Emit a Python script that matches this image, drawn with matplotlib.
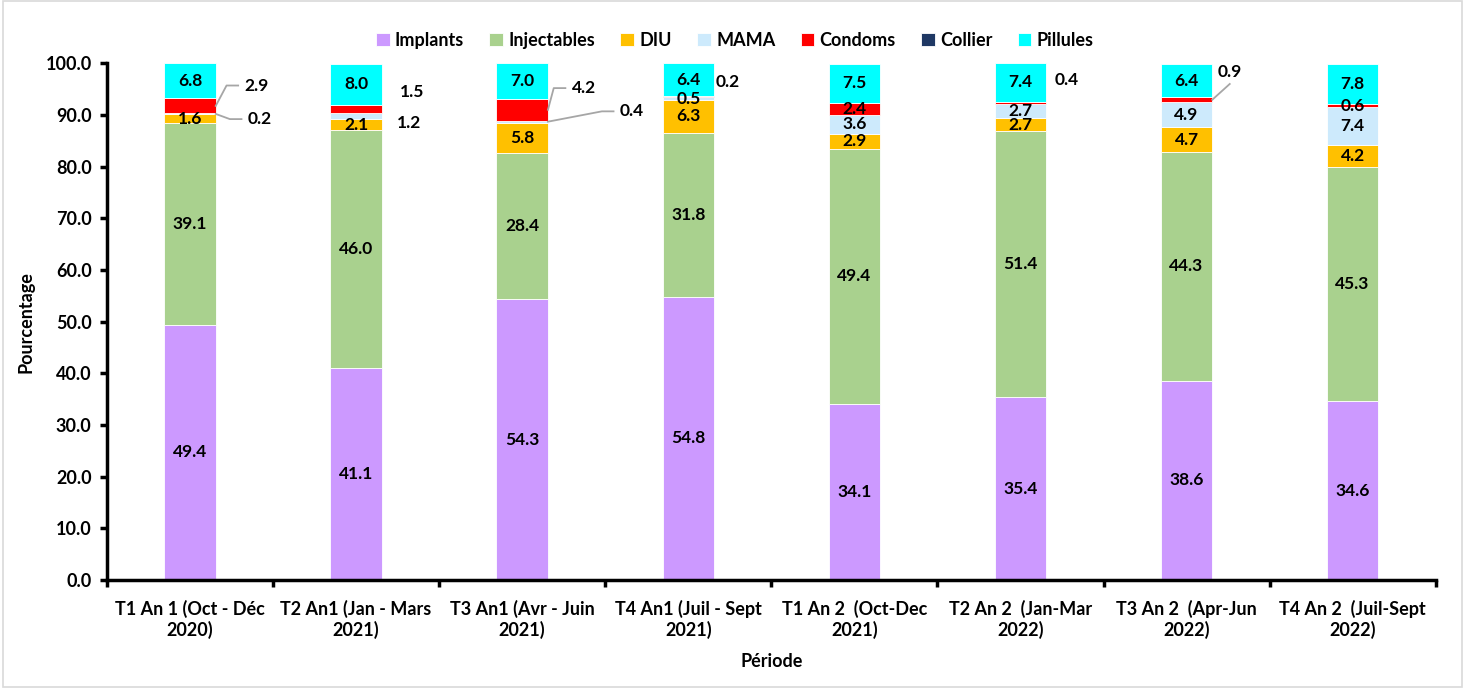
import numpy as np
import matplotlib
matplotlib.use("Agg")
from matplotlib import pyplot as plt
from matplotlib.patches import Rectangle

plt.rcParams['font.family'] = ['Lato', 'DejaVu Sans']
plt.rcParams['font.weight'] = 'bold'

periods = ["T1 An 1 (Oct - Déc\n2020)", "T2 An1 (Jan - Mars\n2021)", "T3 An1 (Avr - Juin\n2021)",
           "T4 An1 (Juil - Sept\n2021)", "T1 An 2  (Oct-Dec\n2021)", "T2 An 2  (Jan-Mar\n2022)",
           "T3 An 2  (Apr-Jun\n2022)", "T4 An 2  (Juil-Sept\n2022)"]

implants = [49.4, 41.1, 54.3, 54.8, 34.1, 35.4, 38.6, 34.6]
injectables = [39.1, 46.0, 28.4, 31.8, 49.4, 51.4, 44.3, 45.3]
diu = [1.6, 2.1, 5.8, 6.3, 2.9, 2.7, 4.7, 4.2]
mama = [0.2, 1.2, 0.4, 0.5, 3.6, 2.7, 4.9, 7.4]
condoms = [2.9, 1.5, 4.2, 0.2, 2.4, 0.4, 0.9, 0.6]
collier = [0, 0, 0, 0, 0, 0, 0, 0]
pillules = [6.8, 8.0, 7.0, 6.4, 7.5, 7.4, 6.4, 7.8]

series = [("Implants", implants, "#cc99ff"),
          ("Injectables", injectables, "#a9d18e"),
          ("DIU", diu, "#ffc000"),
          ("MAMA", mama, "#cdeafc"),
          ("Condoms", condoms, "#ff0000"),
          ("Collier", collier, "#1f3864"),
          ("Pillules", pillules, "#00ffff")]

# labels drawn outside the bar: (bar, series name, dx from bar centre, y of text, leader style)
outside = [(0, "Condoms", 0.40, 95.7, "elbow"),
           (0, "MAMA", 0.42, 89.2, "elbow"),
           (1, "Condoms", 0.34, 94.4, None),
           (1, "MAMA", 0.32, 88.4, None),
           (2, "Condoms", 0.37, 95.2, "elbow"),
           (2, "MAMA", 0.66, 90.7, "elbow"),
           (3, "Condoms", 0.24, 96.3, None),
           (5, "Condoms", 0.28, 96.7, None),
           (6, "Condoms", 0.26, 98.3, "straight")]

fig = plt.figure(figsize=(14.65, 6.88), dpi=100)
ax = fig.add_axes([0.073, 0.157, 0.907, 0.751])
fig.patches.append(Rectangle((0.002, 0.002), 0.996, 0.996, transform=fig.transFigure,
                             fill=False, edgecolor="#d9d9d9", lw=1.2))

x = np.arange(len(periods))
w = 0.31
bottom = np.zeros(len(periods))
seg = {}
for name, vals, col in series:
    vals = np.array(vals, dtype=float)
    ax.bar(x, vals, w, bottom=bottom, color=col, edgecolor="white", linewidth=0.6, label=name)
    seg[name] = (bottom.copy(), vals)
    bottom += vals

lab_fs = 12.5
skip = {(b, s) for b, s, _, _, _ in outside}
for name, vals, col in series:
    if name == "Collier":
        continue
    bots, vs = seg[name]
    for i in range(len(x)):
        if (i, name) in skip:
            continue
        ax.text(x[i], bots[i] + vs[i] / 2, f"{vs[i]:.1f}",
                ha="center", va="center", fontsize=lab_fs, fontweight="bold")

for b, name, dx, ty, style in outside:
    bots, vs = seg[name]
    mid = bots[b] + vs[b] / 2
    ax.text(x[b] + dx, ty, f"{vs[b]:.1f}", ha="center", va="center", fontsize=lab_fs, fontweight="bold")
    if style == "elbow":
        ax.plot([x[b] + w / 2, x[b] + dx - 0.18, x[b] + dx - 0.11], [mid, ty, ty],
                color="#a6a6a6", lw=1.3, clip_on=False)
    elif style == "straight":
        ax.plot([x[b] + w / 2, x[b] + dx], [mid, ty - 2.3], color="#a6a6a6", lw=1.3, clip_on=False)

ax.set_ylim(0, 100)
ax.set_xlim(-0.5, len(periods) - 0.5)
ax.set_yticks(np.arange(0, 101, 10))
ax.set_yticklabels([f"{v:.1f}" for v in np.arange(0, 101, 10)], fontsize=13, fontweight="bold")
ax.set_xticks(np.arange(-0.5, len(periods), 1.0))
ax.set_xticklabels([])
ax.set_xticks(x, minor=True)
ax.set_xticklabels(periods, minor=True, fontsize=13, fontweight="bold", linespacing=1.25)
ax.tick_params(axis="x", which="minor", length=0, pad=14)
ax.tick_params(axis="x", which="major", length=5, width=2.5)
ax.tick_params(axis="y", length=5, width=2.5, pad=6)
for s in ("top", "right"):
    ax.spines[s].set_visible(False)
for s in ("left", "bottom"):
    ax.spines[s].set_linewidth(2.5)

ax.set_ylabel("Pourcentage", fontsize=13, fontweight="bold", labelpad=8)
ax.set_xlabel("Période", fontsize=13, fontweight="bold", labelpad=10)

ax.legend(loc="center", bbox_to_anchor=(0.4725, 1.045), ncol=7, frameon=False, fontsize=13,
          handlelength=0.75, handleheight=0.75, handletextpad=0.3, columnspacing=1.4)

fig.savefig("out.png", dpi=100)
